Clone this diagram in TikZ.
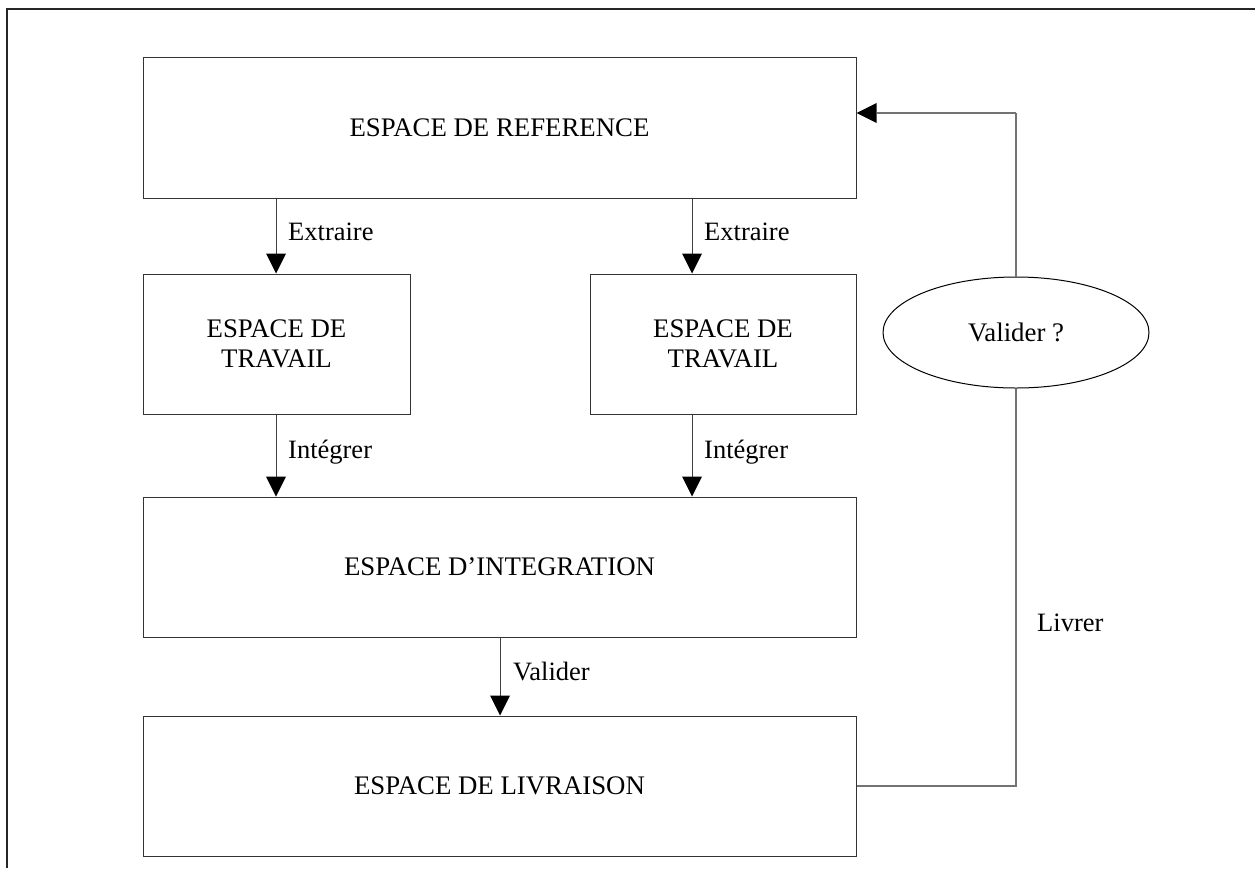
\documentclass[tikz,border=0pt]{standalone}
\usepackage{fontspec}
\setmainfont{Liberation Serif}
\usetikzlibrary{arrows.meta,shapes.geometric}
\begin{document}
\begin{tikzpicture}[x=1pt,y=-1pt,
  box/.style={draw=black!80,line width=1pt,rectangle,inner sep=0pt,align=center,
    font=\fontsize{26.8}{30}\selectfont},
  oval/.style={draw=black,line width=1pt,ellipse,inner sep=0pt,
    minimum width=266pt,minimum height=111pt,font=\fontsize{26.8}{30}\selectfont},
  tip/.tip={Triangle[length=20pt,width=20pt,color=black,line width=0pt]},
  arr/.style={draw=black!75,line width=1pt,-tip},
  larr/.style={draw=black!55,line width=1.3pt,-tip},
  ln/.style={draw=black!55,line width=1.3pt},
  lbl/.style={anchor=west,inner sep=0pt,font=\fontsize{26.5}{30}\selectfont}]
\useasboundingbox (0,0) rectangle (1255,868);
\draw[line width=2pt,black!85] (7,868) -- (7,9) -- (1255,9);

\node[box,minimum width=713pt,minimum height=141pt] (ref) at (499.5,127.5) {ESPACE DE REFERENCE};
\node[box,minimum width=267pt,minimum height=140pt] (tl) at (276.5,344) {ESPACE DE\\TRAVAIL};
\node[box,minimum width=266pt,minimum height=140pt] (tr) at (723,344) {ESPACE DE\\TRAVAIL};
\node[box,minimum width=713pt,minimum height=140pt] (int) at (499.5,567) {ESPACE D'INTEGRATION};
\node[box,minimum width=713pt,minimum height=140pt] (liv) at (499.5,786) {ESPACE DE LIVRAISON};
\node[oval] (val) at (1016,332.5) {Valider ?};

\coordinate (a1) at (276,0);
\coordinate (a2) at (692,0);
\coordinate (a3) at (500,0);
\coordinate (top) at (1016,113);

\draw[arr] (ref.south -| a1) -- (tl.north -| a1);
\draw[arr] (ref.south -| a2) -- (tr.north -| a2);
\draw[arr] (tl.south -| a1) -- (int.north -| a1);
\draw[arr] (tr.south -| a2) -- (int.north -| a2);
\draw[arr] (int.south -| a3) -- (liv.north -| a3);

\draw[ln] (liv.east) -| (val.south);
\draw[ln] (val.north) -- (top);
\draw[larr] (top) -- (ref.east |- top);

\node[lbl] (e1) at (288,232) {Extraire};
\node[lbl] (e2) at (704,232) {Extraire};
\node[lbl] (i1) at (288,452) {Intégrer};
\node[lbl] (i2) at (704,452) {Intégrer};
\node[lbl] (v1) at (513,671) {Valider};
\node[lbl] (l1) at (1037,623) {Livrer};
\end{tikzpicture}
\end{document}
